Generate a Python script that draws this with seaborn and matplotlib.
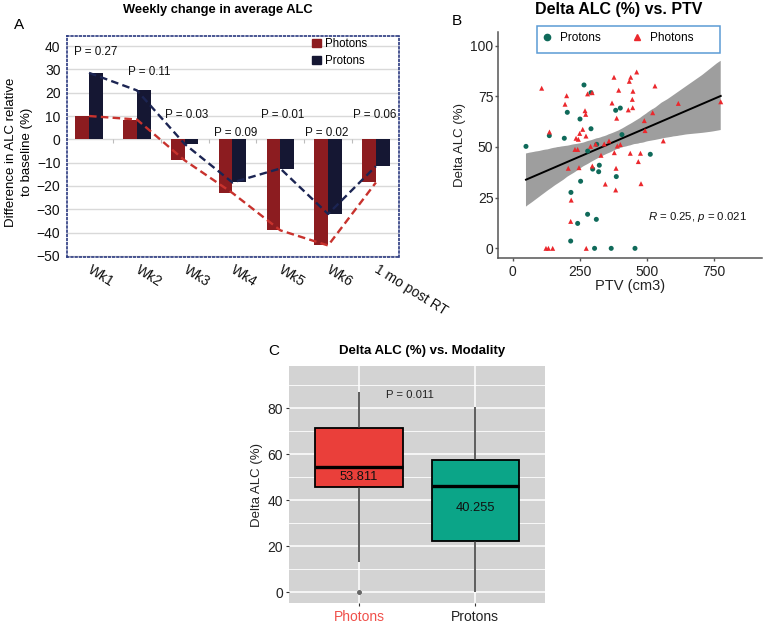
import numpy as np
import pandas as pd
import matplotlib
matplotlib.use("Agg")
import matplotlib.pyplot as plt
from matplotlib.patches import Patch, Rectangle
from matplotlib.lines import Line2D
import seaborn as sns

# ---------------- data ----------------
weeks = ["Wk1", "Wk2", "Wk3", "Wk4", "Wk5", "Wk6", "1 mo post RT"]
photons_change = [10.0, 8.5, -9.0, -23.0, -39.0, -45.5, -18.5]
protons_change = [28.5, 21.0, -2.0, -18.5, -12.5, -32.0, -11.5]
weekly_p = ["P = 0.27", "P = 0.11", "P = 0.03", "P = 0.09", "P = 0.01", "P = 0.02", "P = 0.06"]

protons_ptv = [49.5, 136.4, 192.3, 203.4, 265.6, 291.7, 250.7, 291.7, 279.4, 313, 253, 322.7,
               320.3, 298, 217, 279, 311.6, 242, 216, 305, 367, 455.6, 383.6, 400.9, 407, 386, 512.6]
protons_delta = [50.3, 55.6, 54.3, 67.1, 80.6, 76.8, 63.8, 59.0, 48.0, 51.3, 33.1, 41.0,
                 37.8, 39.1, 27.6, 16.8, 14.3, 12.3, 3.6, 0, 0, 0, 68.1, 69.2, 56.1, 35.4, 46.4]
photons_ptv = [108, 137, 124, 133, 149, 201, 195, 236, 244.5, 249.6, 260.8, 269.4, 272, 279, 296,
               273, 242, 232, 290, 309, 207, 247, 296.6, 329, 345, 218, 216, 274, 377.4, 370,
               394.9, 387.4, 358.8, 341, 378.6, 389.7, 400.9, 385, 383.7, 461.9, 439.6, 434.4,
               448, 445.6, 430.7, 447, 530, 438, 476, 468, 478, 490.3, 493, 521.5, 561, 617, 775]
photons_delta = [79, 57.4, 0, 0, 0, 75.3, 71.1, 54.3, 53.8, 56.7, 58.7, 67.9, 66.1, 76.2, 76.8,
                 55.4, 48.8, 48.8, 50.3, 51.4, 39.5, 39.8, 40.6, 45.9, 31.7, 23.8, 13.3, 0, 84.4, 71.7,
                 78.0, 64.2, 53, 51.5, 47.2, 50.5, 51.2, 39.5, 28.8, 87.0, 84.4, 82.4,
                 77.5, 73.5, 68.3, 69.4, 80.1, 46.9, 46.9, 42.8, 31.9, 63.0, 58.1, 66.9, 53, 71.5, 72.3]
corr_label = r"$R$ = 0.25, $p$ = 0.021"

modalities = ["Photons", "Protons"]
box_means = ["53.811", "40.255"]
modality_p = "P = 0.011"

# ---------------- layout / style ----------------
plt.rcParams["font.family"] = ["Liberation Sans", "DejaVu Sans"]
plt.rcParams["mathtext.fontset"] = "custom"
plt.rcParams["mathtext.it"] = "Liberation Sans:italic"
plt.rcParams["mathtext.rm"] = "Liberation Sans"

p_dx = [0.13, 0.26, 0.05, 0.06, 0.06, -0.02, -0.03]
p_y = [37.5, 28.8, 10.6, 2.7, 10.6, 2.7, 10.6]
mean_y = [50.3, 36.5]

fig = plt.figure(figsize=(7.66, 6.23), dpi=100)
axA = fig.add_axes([0.0871, 0.588, 0.4342, 0.3542])
axB = fig.add_axes([0.6505, 0.5864, 0.3439, 0.3615])
axC = fig.add_axes([0.3777, 0.0316, 0.3338, 0.3809])

# ---------------- Panel A ----------------
n = len(weeks)
dfA = pd.DataFrame({"week": weeks * 2,
                    "change": photons_change + protons_change,
                    "modality": ["Photons"] * n + ["Protons"] * n})
bar_pal = {"Photons": "#8c1c20", "Protons": "#151733"}
line_pal = {"Photons": "#c8322d", "Protons": "#1c2553"}
sns.barplot(data=dfA, x="week", y="change", hue="modality", order=weeks,
            hue_order=modalities, palette=bar_pal, width=0.572, saturation=1,
            errorbar=None, linewidth=0, legend=False, ax=axA, zorder=2)
xpos = np.arange(n)
sns.lineplot(x=xpos, y=photons_change, color=line_pal["Photons"], lw=1.7,
             linestyle=(0, (3.2, 1.8)), ax=axA, zorder=4)
sns.lineplot(x=xpos, y=protons_change, color=line_pal["Protons"], lw=1.7,
             linestyle=(0, (3.2, 1.8)), ax=axA, zorder=4)
axA.vlines(xpos[:-1] + 0.5, -1.6, 0, color="#bdbdbd", lw=0.8, zorder=1)
axA.set_xlim(-0.467, 6.49)
axA.set_ylim(-50.3, 44.3)
axA.set_yticks(np.arange(-50, 41, 10))
axA.set_axisbelow(True)
axA.yaxis.grid(True, color="#d9d9d9", lw=1)
axA.xaxis.grid(False)
axA.set_xticks(xpos)
axA.set_xticklabels(weeks, rotation=-32, ha="left", va="center", rotation_mode="anchor")
axA.tick_params(axis="both", length=0, labelsize=10, labelcolor="#111")
axA.tick_params(axis="x", pad=8.5)
axA.tick_params(axis="y", pad=4.5)
axA.set_xlabel("")
axA.set_ylabel("")
for s in axA.spines.values():
    s.set_linestyle((0, (1, 1.5)))
    s.set_color("#2b3a80")
    s.set_linewidth(1.2)
for i, lab in enumerate(weekly_p):
    axA.text(i + p_dx[i], p_y[i], lab, ha="center", va="center", fontsize=8.4, color="#111")
fig.legend(handles=[Patch(color=bar_pal[m], label=m) for m in modalities],
           loc="upper left", bbox_to_anchor=(312 / 766, 1 - 38 / 623), frameon=False,
           fontsize=8.3, handlelength=0.75, handleheight=0.75, handletextpad=0.35,
           labelspacing=0.42, borderpad=0, borderaxespad=0)
fig.text(0.2846, 0.984, "Weekly change in average ALC", fontsize=9.3, weight="bold",
         ha="center", va="center")
fig.text(0.0248, 0.9599, "A", fontsize=11, ha="center", va="center")
fig.text(0.0248, 0.756, "Difference in ALC relative\nto baseline (%)", fontsize=9.5,
         rotation=90, ha="center", va="center", multialignment="center", linespacing=1.4)

# ---------------- Panel B ----------------
dfB = pd.DataFrame({"ptv": protons_ptv + photons_ptv,
                    "delta": protons_delta + photons_delta,
                    "modality": ["Protons"] * len(protons_ptv) + ["Photons"] * len(photons_ptv)})
pt_pal = {"Protons": "#0f6a5a", "Photons": "#eb282d"}
sns.regplot(data=dfB, x="ptv", y="delta", scatter=False, ci=95, n_boot=1000, seed=3,
            color="black", line_kws={"lw": 1.4, "zorder": 3}, truncate=True, ax=axB)
for coll in axB.collections:
    coll.set_facecolor("#9e9e9e")
    coll.set_alpha(1.0)
    coll.set_zorder(1)
sns.scatterplot(data=dfB, x="ptv", y="delta", hue="modality", style="modality",
                markers={"Protons": "o", "Photons": "^"}, palette=pt_pal, s=13,
                linewidth=0, legend=False, ax=axB, zorder=4)
axB.set_xlim(-53.7, 927.7)
axB.set_ylim(-4.6, 106.5)
axB.set_xticks([0, 250, 500, 750])
axB.set_yticks([0, 25, 50, 75, 100])
axB.spines["top"].set_visible(False)
axB.spines["right"].set_visible(False)
for s in ("left", "bottom"):
    axB.spines[s].set_color("#555555")
    axB.spines[s].set_linewidth(1.1)
axB.tick_params(axis="both", color="#555555", length=2.5, width=1, labelsize=10,
                labelcolor="#222", pad=1)
axB.tick_params(axis="x", pad=2.5)
axB.set_xlabel("PTV (cm3)", fontsize=10.5, color="#222", labelpad=0)
axB.set_ylabel("Delta ALC (%)", fontsize=9.5, color="#222", labelpad=3)
axB.text(0.5695, 0.1807, corr_label, transform=axB.transAxes, fontsize=8.2,
         ha="left", va="center", color="#111")
fig.legend(handles=[Line2D([], [], marker="o", ls="", color=pt_pal["Protons"], markersize=4.5,
                           label="Protons"),
                    Line2D([], [], marker="^", ls="", color=pt_pal["Photons"], markersize=5,
                           label="Photons")],
           loc="center left", bbox_to_anchor=(0.706, 0.9395), frameon=False, ncol=2,
           fontsize=8.5, handlelength=1.0, handletextpad=0.6, columnspacing=2.6,
           borderpad=0, borderaxespad=0)
fig.add_artist(Rectangle((0.7006, 0.9144), 0.2393, 0.0443, transform=fig.transFigure,
                         fill=False, edgecolor="#5b9bd5", lw=1.1))
fig.text(0.808, 0.984, "Delta ALC (%) vs. PTV", fontsize=11.5, weight="bold",
         ha="center", va="center")
fig.text(0.5966, 0.9663, "B", fontsize=11, ha="center", va="center")

# ---------------- Panel C ----------------
box_pal = {"Photons": "#ea3f3a", "Protons": "#0ba588"}
axC.set_facecolor("#d3d3d3")
sns.boxplot(data=dfB, x="modality", y="delta", order=modalities, hue="modality",
            hue_order=modalities, palette=box_pal, width=0.75, saturation=1,
            linecolor="black", linewidth=1.3, fliersize=2, showcaps=False, legend=False,
            medianprops={"linewidth": 2.4},
            whiskerprops={"color": "#333333", "linewidth": 1.1},
            flierprops={"marker": "o", "markerfacecolor": "#666666", "markeredgecolor": "#666666"},
            ax=axC)
axC.set_xlim(-0.6, 1.6)
axC.set_ylim(-4.78, 98.4)
axC.set_yticks([0, 20, 40, 60, 80])
axC.set_yticks([10, 30, 50, 70, 90], minor=True)
axC.set_axisbelow(True)
axC.grid(which="major", color="white", lw=1.1)
axC.grid(which="minor", axis="y", color="white", lw=0.6)
for s in axC.spines.values():
    s.set_visible(False)
axC.tick_params(axis="both", which="major", length=2.5, color="#333333", labelsize=10,
                labelcolor="#222", pad=2)
axC.tick_params(axis="y", which="minor", length=0)
axC.set_xlabel("")
axC.set_ylabel("Delta ALC (%)", fontsize=9.5, color="#222", labelpad=3)
axC.get_xticklabels()[0].set_color("#f0504a")
for i, lab in enumerate(box_means):
    axC.text(i, mean_y[i], lab, ha="center", va="center", fontsize=9.3, color="#111")
axC.text(0.436, 85.8, modality_p, ha="center", va="center", fontsize=8.2, color="#222")
fig.text(0.5505, 0.437, "Delta ALC (%) vs. Modality", fontsize=9.5, weight="bold",
         ha="center", va="center")
fig.text(0.3577, 0.437, "C", fontsize=11, ha="center", va="center")

fig.savefig("out.png", dpi=100)
